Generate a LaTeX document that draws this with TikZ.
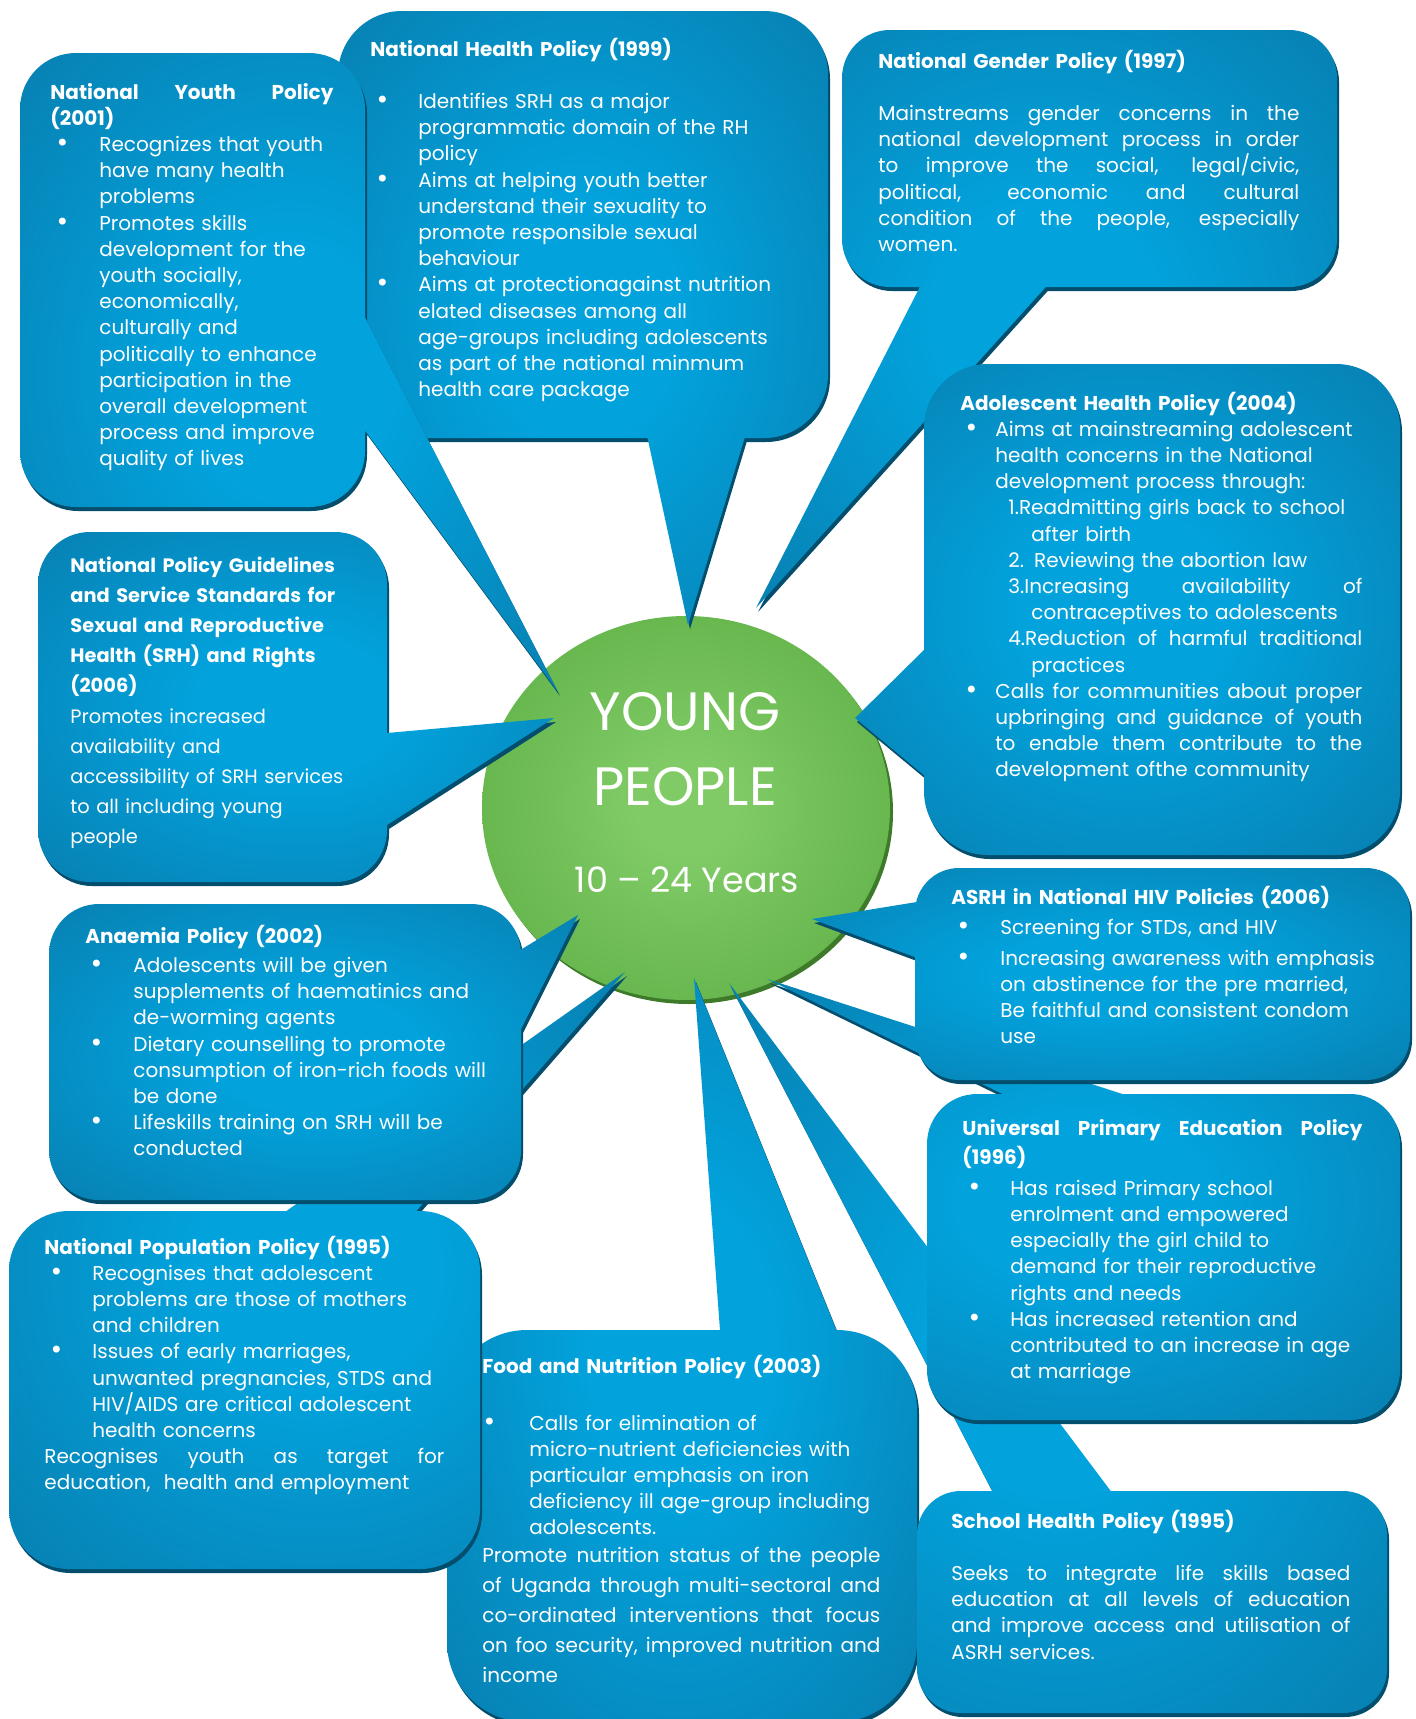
\documentclass[tikz,border=0pt]{standalone}
\usepackage{fontspec}
\setmainfont{Poppins}
\newfontfamily\bulfont{DejaVu Sans}
\usetikzlibrary{shadows}

\definecolor{boxdark}{HTML}{0A72A0}
\definecolor{boxlight}{HTML}{02A2DC}
\definecolor{boxrim}{HTML}{044E6D}
\definecolor{ballout}{HTML}{50A338}
\definecolor{ballin}{HTML}{80CB66}
\definecolor{ballrim}{HTML}{3D7A29}

\pgfdeclareradialshading{bubbleshade}{\pgfpoint{0bp}{0bp}}{color(0bp)=(boxlight); color(10bp)=(boxlight); color(46bp)=(boxdark); color(50bp)=(boxdark)}
\pgfdeclareradialshading{ballshade}{\pgfpoint{0bp}{0bp}}{color(0bp)=(ballin); color(6bp)=(ballin); color(44bp)=(ballout); color(50bp)=(ballout)}

\newlength\bulx
\newlength\bulw
\newcommand\pbul{{\bulfont\fontsize{12}{13}\selectfont\textbullet}}
\newcommand\pitem[1]{\hspace*{\bulx}\makebox[\bulw][l]{\pbul}#1}
\newcommand\pcont[1]{\hspace*{\dimexpr\bulx+\bulw\relax}#1}
\newcommand\pjust[2][0pt]{\hspace*{#1}\makebox[\dimexpr\hsize-#1\relax][s]{\spaceskip=0pt\xspaceskip=0pt\relax #2}}
\newcommand\pitemj[1]{\hspace*{\bulx}\makebox[\bulw][l]{\pbul}\makebox[\dimexpr\hsize-\bulx-\bulw\relax][s]{\spaceskip=0pt\xspaceskip=0pt\relax #1}}
\newcommand\pcontj[1]{\pjust[\dimexpr\bulx+\bulw\relax]{#1}}

\tikzset{
  bubble/.style={shade, shading=bubbleshade, drop shadow={shadow xshift=1pt, shadow yshift=-2pt, fill=boxrim, opacity=1}},
  ball/.style={shade, shading=ballshade, drop shadow={shadow xshift=1.5pt, shadow yshift=-2pt, fill=ballrim, opacity=1}},
  txt/.style={anchor=base west, inner sep=0pt, text=white, align=left, text width=#1, font=\fontsize{10}{13.1}\selectfont},
  bullets/.style 2 args={execute at begin node={\setlength\bulx{#1}\setlength\bulw{#2}}}
}

\begin{document}
\begin{tikzpicture}[x=0.5pt,y=-0.5pt]
\useasboundingbox (0,0) rectangle (1416,1719);
% centre
\path[ball] (686,808) ellipse [x radius=204, y radius=192];
% bubbles, back to front
\path[bubble, rounded corners=32pt] (338,11) -- (828,11) -- (828,438) -- (338,438) -- cycle
  [sharp corners] (751,417) -- (688,625) -- (643,417) -- cycle;
\path[bubble, rounded corners=28pt] (20,53) -- (365,53) -- (365,507) -- (20,507) -- cycle
  [sharp corners] (355,298) -- (558,692) -- (355,417) -- cycle;
\path[bubble, rounded corners=24pt] (842,30) -- (1337,30) -- (1337,287) -- (842,287) -- cycle
  [sharp corners] (1062,269) -- (756,608) -- (929,269) -- cycle;
\path[bubble, rounded corners=32pt] (924,364) -- (1400,364) -- (1400,855) -- (924,855) -- cycle
  [sharp corners] (931,781) -- (855,718) -- (931,643) -- cycle;
\path[bubble, rounded corners=26pt] (38,532) -- (387,532) -- (387,882) -- (38,882) -- cycle
  [sharp corners] (376,734) -- (554,718) -- (376,832) -- cycle;
\path[bubble, rounded corners=40pt] (447,1330) -- (917,1330) -- (917,1722) -- (447,1722) -- cycle
  [sharp corners] (721,1344) -- (694,978) -- (842,1344) -- cycle;
\path[bubble, rounded corners=30pt] (9,1211) -- (480,1211) -- (480,1569) -- (9,1569) -- cycle
  [sharp corners] (268,1224) -- (625,972) -- (405,1224) -- cycle;
\path[bubble, rounded corners=25pt] (49,904) -- (521,904) -- (521,1200) -- (49,1200) -- cycle
  [sharp corners] (512,955) -- (578,915) -- (512,1047) -- cycle;
\path[bubble, rounded corners=22pt] (917,1491) -- (1387,1491) -- (1387,1713) -- (917,1713) -- cycle
  [sharp corners] (1000,1506) -- (729,983) -- (1122,1506) -- cycle;
\path[bubble, rounded corners=25pt] (927,1094) -- (1400,1094) -- (1400,1420) -- (927,1420) -- cycle
  [sharp corners] (1017,1101) -- (767,979) -- (1144,1101) -- cycle;
\path[bubble, rounded corners=22pt] (915,868) -- (1410,868) -- (1410,1080) -- (915,1080) -- cycle
  [sharp corners] (923,960) -- (812,919) -- (923,901) -- cycle;
% centre text
\node[font=\fontsize{27}{30}\selectfont, text=white, anchor=base] (young) at (685,730) {YOUNG};
\node[font=\fontsize{27}{30}\selectfont, text=white, anchor=base] (people) at (685,805) {PEOPLE};
\node[font=\fontsize{17.5}{20}\selectfont, text=white, anchor=base] (years) at (687,892) {10 -- 24 Years};
% texts
\node[txt=141.5pt, bullets={2.5pt}{22pt}] (youth) at (50,99) {%
\pjust{\bfseries National Youth Policy}\\
{\bfseries (2001)}\\
\pitem{Recognizes that youth}\\
\pcont{have many health}\\
\pcont{problems}\\
\pitem{Promotes skills}\\
\pcont{development for the}\\
\pcont{youth socially,}\\
\pcont{economically,}\\
\pcont{culturally and}\\
\pcont{politically to enhance}\\
\pcont{participation in the}\\
\pcont{overall development}\\
\pcont{process and improve}\\
\pcont{quality of lives}};
\node[txt=210pt, bullets={2.5pt}{21.5pt}] (health) at (370,56) {%
{\bfseries National Health Policy (1999)}\\[13.1pt]
\pitem{Identifies SRH as a major}\\
\pcont{programmatic domain of the RH}\\
\pcont{policy}\\
\pitem{Aims at helping youth better}\\
\pcont{understand their sexuality to}\\
\pcont{promote responsible sexual}\\
\pcont{behaviour}\\
\pitem{Aims at protectionagainst nutrition}\\
\pcont{elated diseases among all}\\
\pcont{age-groups including adolescents}\\
\pcont{as part of the national minmum}\\
\pcont{health care package}};
\node[txt=210.5pt] (gender) at (878,68) {%
{\bfseries National Gender Policy (1997)}\\[13.1pt]
\pjust{Mainstreams gender concerns in the}\\
\pjust{national development process in order}\\
\pjust{to improve the social, legal/civic,}\\
\pjust{political, economic and cultural}\\
\pjust{condition of the people, especially}\\
women.};
\node[txt=201pt, bullets={2pt}{15.5pt}] (adolescent) at (960,410) {%
{\bfseries Adolescent Health Policy (2004)}\\
\pitem{Aims at mainstreaming adolescent}\\
\pcont{health concerns in the National}\\
\pcont{development process through:}\\
\hspace*{24pt}1.Readmitting girls back to school\\
\hspace*{35.5pt}after birth\\
\hspace*{24pt}2. Reviewing the abortion law\\
\pjust[24pt]{3.Increasing availability of}\\
\hspace*{35.5pt}contraceptives to adolescents\\
\pjust[24pt]{4.Reduction of harmful traditional}\\
\hspace*{35.5pt}practices\\
\pitemj{Calls for communities about proper}\\
\pcontj{upbringing and guidance of youth}\\
\pcontj{to enable them contribute to the}\\
\pcont{development ofthe community}};
\node[txt=150pt, font=\fontsize{9.7}{15.1}\selectfont] (guidelines) at (70,572) {%
{\bfseries National Policy Guidelines}\\
{\bfseries and Service Standards for}\\
{\bfseries Sexual and Reproductive}\\
{\bfseries Health (SRH) and Rights}\\
{\bfseries (2006)}\\
Promotes increased\\
availability and\\
accessibility of SRH services\\
to all including young\\
people};
\node[txt=206pt, bullets={2pt}{22pt}] (anaemia) at (85,943) {%
{\bfseries Anaemia Policy (2002)}\\[1.6pt]
\pitem{Adolescents will be given}\\
\pcont{supplements of haematinics and}\\
\pcont{de-worming agents}\\
\pitem{Dietary counselling to promote}\\
\pcont{consumption of iron-rich foods will}\\
\pcont{be done}\\
\pitem{Lifeskills training on SRH will be}\\
\pcont{conducted}};
\node[txt=222pt, bullets={2.5pt}{22pt}] (asrh) at (951,904) {%
{\bfseries ASRH in National HIV Policies (2006)}\\[2.2pt]
\pitem{Screening for STDs, and HIV}\\[2.2pt]
\pitem{Increasing awareness with emphasis}\\
\pcont{on abstinence for the pre married,}\\
\pcont{Be faithful and consistent condom}\\
\pcont{use}};
\node[txt=200pt, bullets={2.5pt}{21.5pt}] (upe) at (962,1135) {%
\pjust{\bfseries Universal Primary Education Policy}\\[1.7pt]
{\bfseries (1996)}\\[2.2pt]
\pitem{Has raised Primary school}\\
\pcont{enrolment and empowered}\\
\pcont{especially the girl child to}\\
\pcont{demand for their reproductive}\\
\pcont{rights and needs}\\
\pitem{Has increased retention and}\\
\pcont{contributed to an increase in age}\\
\pcont{at marriage}};
\node[txt=200pt, bullets={2.5pt}{21.5pt}] (population) at (44,1254) {%
{\bfseries National Population Policy (1995)}\\
\pitem{Recognises that adolescent}\\
\pcont{problems are those of mothers}\\
\pcont{and children}\\
\pitem{Issues of early marriages,}\\
\pcont{unwanted pregnancies, STDS and}\\
\pcont{HIV/AIDS are critical adolescent}\\
\pcont{health concerns}\\
\pjust{Recognises youth as target for}\\
education,\ \ health and employment};
\node[txt=206pt, bullets={0pt}{23.5pt}] (food) at (482,1373) {%
{\bfseries Food and Nutrition Policy (2003)}\\[15.4pt]
\pitem{Calls for elimination of}\\
\pcont{micro-nutrient deficiencies with}\\
\pcont{particular emphasis on iron}\\
\pcont{deficiency ill age-group including}\\
\pcont{adolescents.}};
\node[txt=199pt, font=\fontsize{10}{15}\selectfont] (foodtext) at (482,1562) {%
\pjust{Promote nutrition status of the people}\\
\pjust{of Uganda through multi-sectoral and}\\
\pjust{co-ordinated interventions that focus}\\
\pjust{on foo security, improved nutrition and}\\
income};
\node[txt=199.5pt] (school) at (951,1528) {%
{\bfseries School Health Policy (1995)}\\[13.1pt]
\pjust{Seeks to integrate life skills based}\\
\pjust{education at all levels of education}\\
\pjust{and improve access and utilisation of}\\
ASRH services.};
\end{tikzpicture}
\end{document}
